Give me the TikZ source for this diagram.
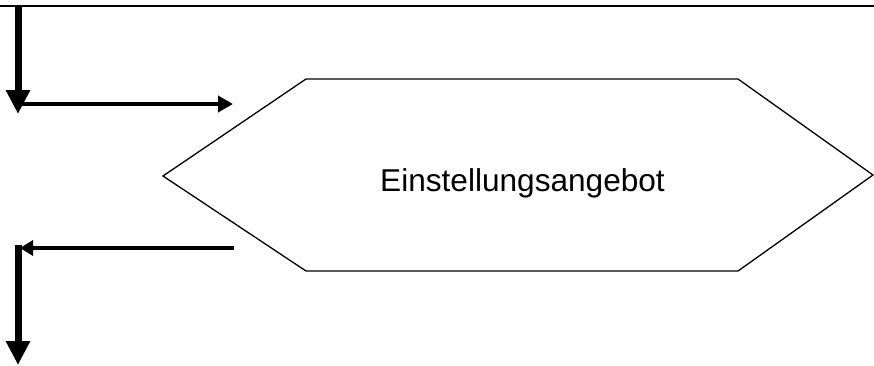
\documentclass[tikz,border=0pt]{standalone}
\usepackage{fontspec}
\setmainfont{Liberation Sans}
\usetikzlibrary{arrows.meta}
\begin{document}
\begin{tikzpicture}[x=1pt,y=-1pt,
  thickline/.style={line width=7pt,-{Triangle[length=24pt,width=23pt]}},
  thinarrow/.style={line width=4pt,-{Triangle[length=15pt,width=16pt]}},
  thinleft/.style={line width=4pt,-{Triangle[length=13pt,width=15pt]}},
  hexline/.style={line width=1.3pt,line join=miter},
  label/.style={font=\fontsize{31.6}{38}\selectfont,inner sep=0pt,anchor=base}]
\useasboundingbox (0,0) rectangle (874,365);
\fill[white] (0,0) rectangle (874,365);
% top rule
\coordinate (tl) at (0,5.7);
\coordinate (tr) at (874,5.7);
\draw[line width=2pt] (tl) -- (tr);
% hexagon
\coordinate (hL) at (163,176);
\coordinate (hTL) at (306,79);
\coordinate (hTR) at (738,79);
\coordinate (hR) at (873,175);
\coordinate (hBR) at (738,271);
\coordinate (hBL) at (306,271);
\draw[hexline] (hL) -- (hTL) -- (hTR) -- (hR) -- (hBR) -- (hBL) -- cycle;
\node[label] (txt) at (522.5,191.7) {Einstellungsangebot};
% upper connectors
\coordinate (v1s) at (18,5);
\coordinate (v1e) at (18,114);
\draw[thickline] (v1s) -- (v1e);
\coordinate (h1s) at (18,104);
\coordinate (h1e) at (233,104);
\draw[thinarrow] (h1s) -- (h1e);
% lower connectors
\coordinate (h2s) at (234,248);
\coordinate (h2e) at (20,248);
\draw[thinleft] (h2s) -- (h2e);
\coordinate (v2s) at (18,244.5);
\coordinate (v2e) at (18,365);
\draw[thickline] (v2s) -- (v2e);
\end{tikzpicture}
\end{document}
